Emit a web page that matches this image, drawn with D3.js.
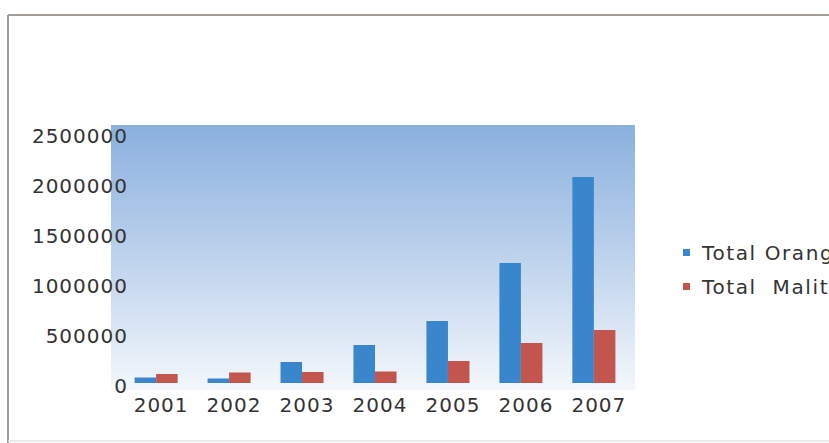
<!DOCTYPE html>
<html lang="en">
<head>
    <meta charset="UTF-8">
    <title>Total Orange / Total Malite</title>
    <script src="https://d3js.org/d3.v7.min.js"></script>
    <style>
        body { margin: 0; background: #fff; }
        svg text { font-family: "DejaVu Sans", Verdana, sans-serif; fill: #333; }
    </style>
</head>
<body>
<div id="chart"></div>
<script>
// chart data
var years = ["2001", "2002", "2003", "2004", "2005", "2006", "2007"];
var totalOrange = [55000, 45000, 210000, 380000, 620000, 1200000, 2060000];
var totalMalite = [90000, 105000, 110000, 115000, 220000, 400000, 530000];
var seriesNames = ["Total Orange", "Total  Malite"];
var yTicks = [0, 500000, 1000000, 1500000, 2000000, 2500000];

var W = 829, H = 443;
var colors = ["#3a86cc", "#c2564e"];

var svg = d3.select("#chart").append("svg")
    .attr("width", W).attr("height", H);

var defs = svg.append("defs");
var grad = defs.append("linearGradient")
    .attr("id", "bg").attr("x1", 0).attr("y1", 0).attr("x2", 0).attr("y2", 1);
grad.append("stop").attr("offset", "0%").attr("stop-color", "#8ab0de");
grad.append("stop").attr("offset", "55%").attr("stop-color", "#c3d6ee");
grad.append("stop").attr("offset", "100%").attr("stop-color", "#f3f7fb");

// outer frame
svg.append("line").attr("x1", 8).attr("y1", 15).attr("x2", W).attr("y2", 15)
    .attr("stroke", "#a39c98").attr("stroke-width", 2);
svg.append("line").attr("x1", 8).attr("y1", 15).attr("x2", 8).attr("y2", H)
    .attr("stroke", "#a39c98").attr("stroke-width", 2);
svg.append("line").attr("x1", 8).attr("y1", 441).attr("x2", W).attr("y2", 441)
    .attr("stroke", "#e4e4e4").attr("stroke-width", 1.5);

// scales
var x = d3.scaleBand().domain(years).range([120, 630]).paddingInner(0.41).paddingOuter(0.2);
var y = d3.scaleLinear().domain([0, 2500000]).range([383, 133]);

// plot background
svg.append("rect")
    .attr("x", 111).attr("y", 125)
    .attr("width", 524).attr("height", 265)
    .attr("fill", "url(#bg)");

// bars
var series = [totalOrange, totalMalite];
var bw = x.bandwidth() / 2;
series.forEach(function(vals, si) {
    svg.append("g").selectAll("rect")
        .data(years)
        .enter().append("rect")
        .attr("x", function(d) { return x(d) + si * bw; })
        .attr("y", function(d, i) { return y(vals[i]); })
        .attr("width", bw)
        .attr("height", function(d, i) { return y(0) - y(vals[i]); })
        .attr("fill", colors[si]);
});

// y axis labels
svg.append("g").selectAll("text")
    .data(yTicks)
    .enter().append("text")
    .attr("x", 128)
    .attr("y", function(d) { return y(d) + 10; })
    .attr("text-anchor", "end")
    .style("font-size", "20px")
    .style("letter-spacing", "1px")
    .text(function(d) { return d; });

// x axis labels
svg.append("g").selectAll("text")
    .data(years)
    .enter().append("text")
    .attr("x", function(d) { return x(d) + x.bandwidth() / 2 + 5; })
    .attr("y", 412)
    .attr("text-anchor", "middle")
    .style("font-size", "20px")
    .style("letter-spacing", "1px")
    .text(function(d) { return d; });

// legend
var lg = svg.append("g").attr("transform", "translate(683,249)");
seriesNames.forEach(function(name, i) {
    lg.append("rect").attr("x", 0).attr("y", i * 34).attr("width", 7).attr("height", 7)
        .attr("fill", colors[i]);
    lg.append("text").attr("x", 19).attr("y", i * 34 + 11)
        .style("font-size", "20px")
        .style("letter-spacing", "1.6px")
        .style("white-space", "pre")
        .text(name);
});
</script>
</body>
</html>
